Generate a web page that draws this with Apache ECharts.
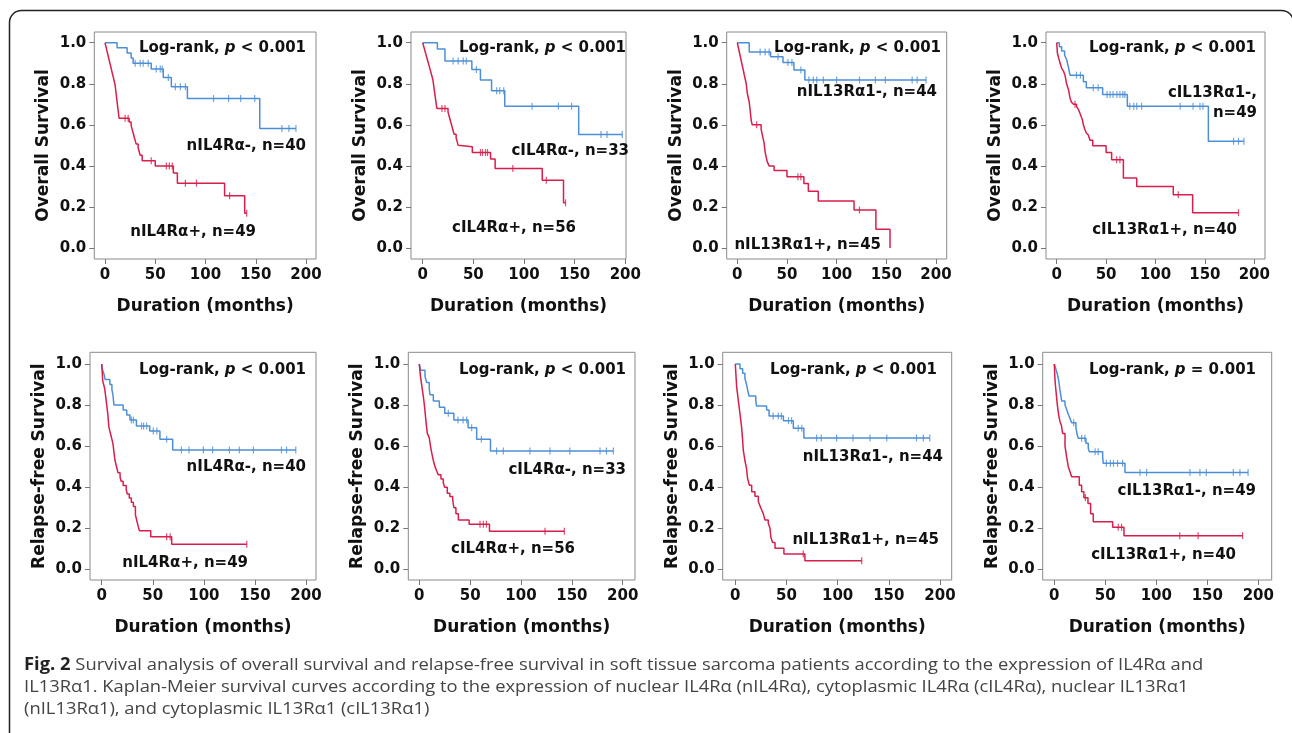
<!DOCTYPE html>
<html>
<head>
<meta charset="utf-8">
<script src="https://cdn.jsdelivr.net/npm/echarts@6/dist/echarts.min.js"></script>
<style>
html,body{margin:0;padding:0;background:#fff;}
#chart{width:1292px;height:733px;}
</style>
</head>
<body>
<div id="chart"></div>
<script>
// ---------------- DATA ----------------
const xTicks = [0, 50, 100, 150, 200];
const yTicks = [0, 0.2, 0.4, 0.6, 0.8, 1.0];
const xName = 'Duration (months)';
const yNames = ['Overall Survival', 'Overall Survival', 'Overall Survival', 'Overall Survival',
  'Relapse-free Survival', 'Relapse-free Survival', 'Relapse-free Survival', 'Relapse-free Survival'];
const pTexts = ['< 0.001', '< 0.001', '< 0.001', '< 0.001', '< 0.001', '< 0.001', '< 0.001', '= 0.001'];
const negLabels = ['nIL4Rα-, n=40', 'cIL4Rα-, n=33', 'nIL13Rα1-, n=44', 'cIL13Rα1-,\nn=49',
  'nIL4Rα-, n=40', 'cIL4Rα-, n=33', 'nIL13Rα1-, n=44', 'cIL13Rα1-, n=49'];
const posLabels = ['nIL4Rα+, n=49', 'cIL4Rα+, n=56', 'nIL13Rα1+, n=45', 'cIL13Rα1+, n=40',
  'nIL4Rα+, n=49', 'cIL4Rα+, n=56', 'nIL13Rα1+, n=45', 'cIL13Rα1+, n=40'];

// Kaplan-Meier steps: [time (months), survival after the drop]; censor times
const OS_nIL4Ra_neg = [[12,0.975],[22,0.95],[26,0.925],[28,0.90],[46,0.872],[58,0.831],[66,0.786],[82,0.728],[154,0.582]];
const OS_nIL4Ra_neg_cens = [30,35,38,43,51,55,57,63,70,75,80,108,123,135,149,176,183,190];
const OS_nIL4Ra_pos = [[1,0.98],[2,0.959],[3,0.939],[4,0.918],[5,0.898],[6,0.878],[7,0.857],[8,0.837],[9,0.816],[10,0.796],[11,0.755],[12,0.714],[13,0.673],[14,0.632],[24,0.614],[26,0.596],[27,0.578],[28,0.56],[29,0.542],[30,0.524],[31,0.506],[33,0.488],[34,0.47],[35,0.452],[37,0.425],[50,0.40],[68,0.365],[72,0.316],[119,0.254],[139,0.169]];
const OS_nIL4Ra_pos_cens = [20,23,46,61,64,67,80,91,124,141];

const OS_cIL4Ra_neg = [[14.5,0.969],[22,0.911],[48.5,0.87],[57,0.818],[68,0.766],[81,0.691],[154,0.553]];
const OS_cIL4Ra_neg_cens = [30,35,40,43,53,73,76,80,108,134,147,176,182,197];
const OS_cIL4Ra_pos = [[1,0.982],[2,0.964],[3,0.946],[4,0.929],[5,0.911],[6,0.893],[7,0.875],[8,0.857],[9,0.839],[10,0.821],[11,0.786],[12,0.75],[13,0.714],[14,0.68],[25,0.662],[26,0.644],[27,0.626],[28,0.608],[29,0.59],[30,0.572],[31,0.554],[33,0.536],[34,0.518],[35,0.50],[36,0.493],[49,0.465],[67,0.433],[71.5,0.387],[118,0.33],[139,0.22]];
const OS_cIL4Ra_pos_cens = [19,22,57,59,62,64,89,122,141];

const OS_nIL13Ra1_neg = [[12,0.955],[33.5,0.932],[46,0.904],[57,0.867],[68,0.818]];
const OS_nIL13Ra1_neg_cens = [23,28,32,41,51,55,64,72,76.5,80,86.6,100,123,139,149,176,181,190];
const OS_nIL13Ra1_pos = [[1,0.978],[2,0.956],[3,0.933],[4,0.911],[5,0.889],[6,0.867],[7,0.844],[8,0.822],[9,0.80],[10,0.756],[11,0.733],[12,0.711],[13,0.667],[14,0.622],[15,0.60],[24,0.578],[25,0.556],[26,0.533],[27,0.511],[28,0.467],[29,0.444],[30,0.422],[32,0.40],[37,0.378],[50,0.347],[67,0.314],[71.5,0.276],[81.5,0.229],[117.5,0.185],[139.5,0.091],[153.7,0.0]];
const OS_nIL13Ra1_pos_cens = [19.5,61,64,123];

const OS_cIL13Ra1_neg = [[2.7,0.98],[5,0.959],[8,0.939],[10,0.918],[12,0.878],[13.5,0.842],[27,0.81],[30,0.78],[46.5,0.748],[71.5,0.691],[153.5,0.52]];
const OS_cIL13Ra1_neg_cens = [20,24,37,42,51,54,57,61,64,67,69,74,78,81,86,125,138,145,148,179,184,189.5];
const OS_cIL13Ra1_pos = [[0.7,0.95],[2,0.925],[3.5,0.90],[5,0.875],[7,0.86],[8.5,0.84],[10,0.80],[12,0.77],[13.5,0.73],[15,0.71],[17,0.70],[20,0.69],[22,0.675],[24,0.65],[26,0.625],[27,0.60],[28.7,0.575],[30,0.56],[32,0.55],[33.7,0.525],[36.5,0.498],[50,0.465],[55.6,0.43],[67.5,0.341],[81,0.30],[118,0.259],[137.6,0.172]];
const OS_cIL13Ra1_pos_cens = [18.5,60.7,64,123,184];

const RFS_nIL4Ra_neg = [[0.7,0.975],[2.3,0.95],[3.3,0.925],[8,0.90],[10,0.875],[11,0.85],[12,0.80],[21,0.776],[24.5,0.752],[27.7,0.727],[34,0.698],[47,0.674],[57,0.633],[69.5,0.581]];
const RFS_nIL4Ra_neg_cens = [29,31,39,41,44,50.5,54,63.6,78,85.5,99.5,108.6,125,134.7,148.5,176,181,190];
const RFS_nIL4Ra_pos = [[1,0.918],[2,0.898],[3,0.878],[4,0.837],[5,0.796],[6,0.755],[7,0.694],[8,0.673],[9,0.653],[10,0.633],[11,0.612],[12,0.571],[13,0.531],[14,0.51],[15,0.49],[16,0.47],[18,0.449],[19,0.429],[21,0.408],[24,0.388],[25,0.367],[27,0.347],[29,0.327],[31,0.306],[33,0.265],[34,0.245],[35,0.224],[36,0.204],[37,0.188],[48,0.159],[68.5,0.122]];
const RFS_nIL4Ra_pos_cens = [63.6,67,142];

const RFS_cIL4Ra_neg = [[1.3,0.97],[5.6,0.94],[7.2,0.91],[9.8,0.88],[10.5,0.85],[13.8,0.82],[19.7,0.789],[25,0.76],[34,0.727],[48,0.69],[56.4,0.633],[70,0.576]];
const RFS_cIL4Ra_neg_cens = [28.5,38,43,46.6,51.5,61,76,82.6,108.8,128.5,148,177.7,184,190.8];
const RFS_cIL4Ra_pos = [[1,0.946],[2,0.91],[3,0.875],[4,0.84],[5,0.80],[6,0.75],[7,0.70],[7.9,0.662],[9.8,0.64],[11,0.60],[12.5,0.56],[13.8,0.53],[15.4,0.50],[17,0.48],[18.7,0.46],[21.3,0.44],[23.6,0.42],[25,0.40],[27.5,0.37],[30,0.355],[32.8,0.34],[34,0.30],[36,0.27],[38.4,0.24],[49,0.22],[69,0.185]];
const RFS_cIL4Ra_pos_cens = [59.7,63,66,123.6,142.6];

const RFS_nIL13Ra1_neg = [[4.6,0.977],[7.2,0.955],[9.4,0.93],[11,0.90],[12,0.875],[13.4,0.844],[20,0.82],[20.8,0.795],[30.6,0.776],[33,0.747],[47,0.724],[56.7,0.687],[67,0.64]];
const RFS_nIL13Ra1_neg_cens = [37,42,45,52,55,61.5,65,79.5,84,99,115,131.6,148,177,183.7,190];
const RFS_nIL13Ra1_pos = [[1.3,0.89],[3,0.82],[4.5,0.76],[6,0.70],[7,0.64],[7.8,0.581],[9.4,0.53],[11,0.49],[12,0.443],[13.7,0.41],[16,0.378],[19.2,0.356],[22.5,0.33],[24,0.31],[25.7,0.29],[27.4,0.27],[29,0.24],[32.2,0.224],[33.9,0.20],[34.8,0.155],[36.5,0.13],[38.8,0.102],[47.5,0.075],[68,0.042]];
const RFS_nIL13Ra1_pos_cens = [66.4,123.5];

const RFS_cIL13Ra1_neg = [[1.6,0.975],[3,0.95],[4.2,0.922],[5.5,0.875],[7.2,0.82],[10.5,0.80],[12,0.78],[13.7,0.755],[15.4,0.735],[17,0.714],[21.2,0.69],[22.5,0.654],[23.5,0.638],[31,0.614],[33.3,0.59],[34.3,0.573],[47.4,0.545],[48,0.516],[69.3,0.471]];
const RFS_cIL13Ra1_neg_cens = [19,26.8,30,40,43,51,55,58,62,67,84,90.5,133,142.8,149,175.5,182,190];
const RFS_cIL13Ra1_pos = [[0.7,0.92],[1.6,0.87],[3,0.80],[4.3,0.75],[5.6,0.719],[7,0.70],[8.2,0.662],[10.5,0.60],[12,0.55],[13.7,0.50],[15.4,0.475],[17,0.451],[24.5,0.41],[26.8,0.378],[29,0.349],[33,0.32],[35.6,0.27],[38.2,0.232],[57.2,0.205],[68.3,0.164]];
const RFS_cIL13Ra1_pos_cens = [30.5,62.7,66,123,141,184.6];

const captionLines = [
  ' Survival analysis of overall survival and relapse-free survival in soft tissue sarcoma patients according to the expression of IL4Rα and',
  'IL13Rα1. Kaplan-Meier survival curves according to the expression of nuclear IL4Rα (nIL4Rα), cytoplasmic IL4Rα (cIL4Rα), nuclear IL13Rα1',
  '(nIL13Rα1), and cytoplasmic IL13Rα1 (cIL13Rα1)'
];
const captionLabel = 'Fig. 2';

// ---------------- LAYOUT (pixels) ----------------
// box [left, top, right, bottom], pixel of x=0, x=200, y=1, y=0
const layout = [
  {box:[94.3,32,316,259],   x0:105,   x200:306,   y1:42.7, y0:248},
  {box:[411,32,626,259],    x0:422.7, x200:625.3, y1:42.7, y0:248},
  {box:[726.7,32,946.7,259],x0:737.3, x200:936,   y1:42.7, y0:248},
  {box:[1046,32,1265,259],  x0:1056.7,x200:1254.3,y1:42.7, y0:248},
  {box:[90,352.3,316,580],  x0:101.7, x200:306,   y1:364,  y0:569.3},
  {box:[408.3,352.3,635,580],x0:419.3,x200:622.7, y1:364,  y0:569.3},
  {box:[722.7,352.3,951.7,580],x0:735.3,x200:940, y1:364,  y0:569.3},
  {box:[1042.7,352.3,1271.7,580],x0:1054.3,x200:1258.3,y1:364,y0:569.3}
];
// annotation anchors: right edge x, middle y
const lrPos  = [[306,48],[626,48],[941,48],[1256,48],[306,370],[626,370],[937,370],[1256,370]];
const negPos = [[306,146],[629,151],[937,92],[1257,103],[306,467],[626,470],[943,457],[1256,491]];
const posPos = [[256,232],[576,228],[881,245],[1237,230],[248,563],[575,549],[939,540],[1236,555]];

const curves = [
  [OS_nIL4Ra_neg, OS_nIL4Ra_neg_cens, OS_nIL4Ra_pos, OS_nIL4Ra_pos_cens],
  [OS_cIL4Ra_neg, OS_cIL4Ra_neg_cens, OS_cIL4Ra_pos, OS_cIL4Ra_pos_cens],
  [OS_nIL13Ra1_neg, OS_nIL13Ra1_neg_cens, OS_nIL13Ra1_pos, OS_nIL13Ra1_pos_cens],
  [OS_cIL13Ra1_neg, OS_cIL13Ra1_neg_cens, OS_cIL13Ra1_pos, OS_cIL13Ra1_pos_cens],
  [RFS_nIL4Ra_neg, RFS_nIL4Ra_neg_cens, RFS_nIL4Ra_pos, RFS_nIL4Ra_pos_cens],
  [RFS_cIL4Ra_neg, RFS_cIL4Ra_neg_cens, RFS_cIL4Ra_pos, RFS_cIL4Ra_pos_cens],
  [RFS_nIL13Ra1_neg, RFS_nIL13Ra1_neg_cens, RFS_nIL13Ra1_pos, RFS_nIL13Ra1_pos_cens],
  [RFS_cIL13Ra1_neg, RFS_cIL13Ra1_neg_cens, RFS_cIL13Ra1_pos, RFS_cIL13Ra1_pos_cens]
];

const BLUE = '#4d8fd6';
const RED = '#d81e4c';
const FONT = '"DejaVu Sans", "Liberation Sans", sans-serif';
const CAP_FONT = '"Open Sans", "Noto Sans", sans-serif';

function survAt(ev, t) {
  let s = 1;
  for (const [et, es] of ev) if (et <= t) s = es;
  return s;
}
function stepLine(ev, cens) {
  const pts = [[0, 1]].concat(ev);
  const lastT = ev[ev.length - 1][0];
  const end = Math.max(lastT, cens.length ? cens[cens.length - 1] : 0);
  if (end > lastT) pts.push([end, ev[ev.length - 1][1]]);
  return pts;
}
function censPts(ev, cens) { return cens.map(t => [t, survAt(ev, t)]); }

const grids = [], xAxes = [], yAxes = [], series = [], graphics = [];

layout.forEach((L, i) => {
  const [l, t, r, b] = L.box;
  const ppx = (L.x200 - L.x0) / 200;
  const ppy = (L.y0 - L.y1);
  grids.push({left: l, top: t, width: r - l, height: b - t, show: true,
    borderColor: '#8a8a8a', borderWidth: 1, backgroundColor: 'transparent', containLabel: false});
  xAxes.push({
    type: 'value', gridIndex: i,
    min: -(L.x0 - l) / ppx, max: 200 + (r - L.x200) / ppx,
    axisLine: {show: false, onZero: false},
    splitLine: {show: false},
    axisTick: {show: true, inside: false, length: 5, customValues: xTicks, lineStyle: {color: '#777', width: 1}},
    axisLabel: {customValues: xTicks, fontFamily: FONT, fontWeight: 'bold', fontSize: 15, color: '#111', margin: 9},
    name: xName, nameLocation: 'middle', nameGap: 39,
    nameTextStyle: {fontFamily: FONT, fontWeight: 'bold', fontSize: 17, color: '#111'}
  });
  yAxes.push({
    type: 'value', gridIndex: i,
    min: -(b - L.y0) / ppy, max: 1 + (L.y1 - t) / ppy,
    axisLine: {show: false, onZero: false},
    splitLine: {show: false},
    axisTick: {show: true, inside: false, length: 5, customValues: yTicks, lineStyle: {color: '#777', width: 1}},
    axisLabel: {customValues: yTicks, formatter: v => v.toFixed(1), fontFamily: FONT, fontWeight: 'bold', fontSize: 15, color: '#111', margin: 8},
    name: yNames[i], nameLocation: 'middle', nameGap: 42,
    nameTextStyle: {fontFamily: FONT, fontWeight: 'bold', fontSize: 17, color: '#111'}
  });
  const [neg, negC, pos, posC] = curves[i];
  [[neg, negC, BLUE], [pos, posC, RED]].forEach(([ev, cens, col]) => {
    series.push({type: 'line', xAxisIndex: i, yAxisIndex: i, step: 'end', data: stepLine(ev, cens),
      showSymbol: false, symbol: 'none', lineStyle: {color: col, width: 1.5}, silent: true, z: 3});
    series.push({type: 'scatter', xAxisIndex: i, yAxisIndex: i, data: censPts(ev, cens),
      symbol: 'rect', symbolSize: [1.2, 7], itemStyle: {color: col}, silent: true, z: 4});
  });
  // annotations
  graphics.push({type: 'text', x: lrPos[i][0], y: lrPos[i][1], silent: true, style: {
    text: '{a|Log-rank, }{p|p}{a| ' + pTexts[i] + '}', align: 'right', verticalAlign: 'middle',
    rich: {a: {font: 'bold 15px ' + FONT, fill: '#111'}, p: {font: 'italic bold 15px ' + FONT, fill: '#111'}}}});
  graphics.push({type: 'text', x: negPos[i][0], y: negPos[i][1], silent: true, style: {
    text: negLabels[i], align: 'right', verticalAlign: 'middle', font: 'bold 15px ' + FONT, fill: '#111', lineHeight: 20}});
  graphics.push({type: 'text', x: posPos[i][0], y: posPos[i][1], silent: true, style: {
    text: posLabels[i], align: 'right', verticalAlign: 'middle', font: 'bold 15px ' + FONT, fill: '#111'}});
});

// frame
graphics.push({type: 'rect', silent: true, shape: {x: 9.5, y: 10.5, width: 1284, height: 760, r: 12},
  style: {fill: 'none', stroke: '#222', lineWidth: 1.5}});
// caption
const capY = [665, 687, 709];
const capScale = 1.08;
graphics.push({type: 'text', x: 24, y: capY[0], scaleX: capScale, silent: true, style: {
  text: '{b|' + captionLabel + '}{n|' + captionLines[0] + '}', verticalAlign: 'middle',
  rich: {b: {font: 'bold 17px ' + CAP_FONT, fill: '#222'}, n: {font: '17px ' + CAP_FONT, fill: '#444'}}}});
graphics.push({type: 'text', x: 24, y: capY[1], scaleX: capScale, silent: true, style: {
  text: captionLines[1], verticalAlign: 'middle', font: '17px ' + CAP_FONT, fill: '#444'}});
graphics.push({type: 'text', x: 24, y: capY[2], scaleX: capScale, silent: true, style: {
  text: captionLines[2], verticalAlign: 'middle', font: '17px ' + CAP_FONT, fill: '#444'}});

const chart = echarts.init(document.getElementById('chart'), null, {renderer: 'canvas'});
chart.setOption({
  animation: false,
  backgroundColor: '#fff',
  grid: grids, xAxis: xAxes, yAxis: yAxes, series: series, graphic: graphics
});
</script>
</body>
</html>
